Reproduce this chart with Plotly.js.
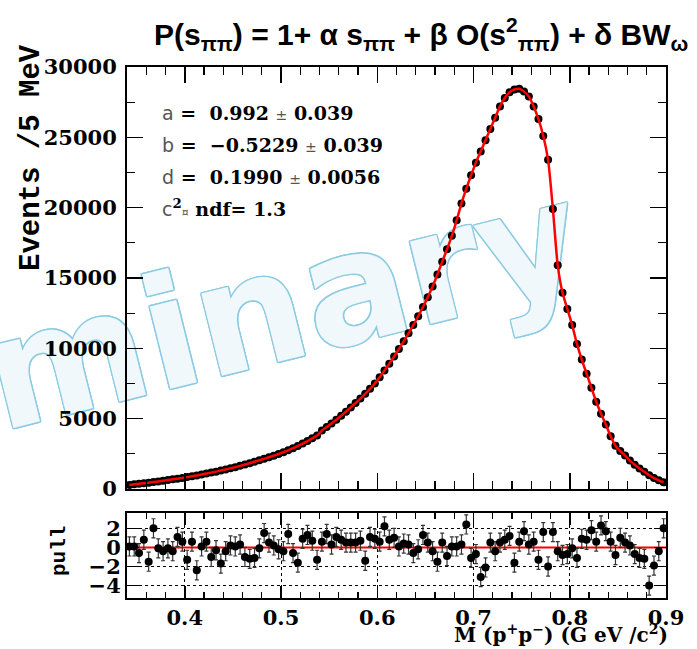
<!DOCTYPE html>
<html>
<head>
<meta charset="utf-8">
<script src="https://cdn.plot.ly/plotly-3.0.1.min.js"></script>
<style>html,body{margin:0;padding:0;background:#fff;}#chart{width:697px;height:649px;}</style>
</head>
<body>
<div id="chart"></div>
<script>
// bin centres M(pi+pi-) in GeV/c^2 (5 MeV bins)
const massBins = [0.3425,0.3475,0.3525,0.3575,0.3625,0.3675,0.3725,0.3775,0.3825,0.3875,
0.3925,0.3975,0.4025,0.4075,0.4125,0.4175,0.4225,0.4275,0.4325,0.4375,
0.4425,0.4475,0.4525,0.4575,0.4625,0.4675,0.4725,0.4775,0.4825,0.4875,
0.4925,0.4975,0.5025,0.5075,0.5125,0.5175,0.5225,0.5275,0.5325,0.5375,
0.5425,0.5475,0.5525,0.5575,0.5625,0.5675,0.5725,0.5775,0.5825,0.5875,
0.5925,0.5975,0.6025,0.6075,0.6125,0.6175,0.6225,0.6275,0.6325,0.6375,
0.6425,0.6475,0.6525,0.6575,0.6625,0.6675,0.6725,0.6775,0.6825,0.6875,
0.6925,0.6975,0.7025,0.7075,0.7125,0.7175,0.7225,0.7275,0.7325,0.7375,
0.7425,0.7475,0.7525,0.7575,0.7625,0.7675,0.7725,0.7775,0.7825,0.7875,
0.7925,0.7975,0.8025,0.8075,0.8125,0.8175,0.8225,0.8275,0.8325,0.8375,
0.8425,0.8475,0.8525,0.8575,0.8625,0.8675,0.8725,0.8775,0.8825,0.8875,
0.8925,0.8975];

// events per 5 MeV
const events = [290,330,370,410,450,495,540,585,635,685,
735,790,845,905,965,1030,1095,1165,1235,1310,
1390,1470,1555,1645,1740,1835,1935,2040,2145,2255,
2370,2490,2615,2750,2900,3060,3230,3410,3600,3800,
4150,4400,4660,4930,5210,5500,5800,6110,6430,6770,
7120,7500,7950,8420,8910,9420,9950,10500,11070,11660,
12280,12940,13640,14400,15250,16150,17050,18000,19100,20300,
21350,22300,23200,24000,24800,25600,26400,27200,27800,28200,
28400,28450,28250,27900,27200,26300,25100,23400,19900,15900,
13950,12800,11650,10300,9200,8200,7200,6200,5350,4580,
3750,3080,2700,2380,2020,1720,1450,1220,980,780,
620,480];

// fit pulls
const pulls = [0.1,0.1,-0.6,0.8,-1.5,2.0,-0.1,-0.4,-0.1,-0.4,
1.1,0.6,-1.3,0.6,-2.4,0.1,0.6,-1.0,-0.3,-1.7,
-0.4,0.2,0.1,0.3,-1.0,-1.2,-1.1,-0.1,1.5,0.5,
0.2,-0.2,-0.4,1.4,-0.6,-1.6,0.9,1.3,0.7,-1.3,
0.6,1.4,0.3,1.1,0.8,0.5,0.5,0.5,0.7,-1.4,
1.1,0.9,0.6,2.2,0.8,1.0,0.1,0.4,0.3,-0.6,
-0.2,1.3,0.5,-0.4,-1.5,0.5,-0.9,0.1,0.1,0.3,
2.4,-1.1,-0.7,-3.1,-2.1,0.5,-0.4,0.5,0.8,1.2,
-1.6,0.6,1.7,0.3,0.6,-1.3,1.6,-2.0,1.6,-0.4,
-0.8,-0.7,-0.1,-1.1,0.9,0.8,1.8,0.6,2.3,1.7,
0.6,-0.8,1.0,0.5,0.2,-0.7,-1.1,-1.2,-4.0,-1.9,
-0.4,2.0];
const pullErr = 1;

const xTicks = [0.4,0.5,0.6,0.7,0.8,0.9];
const yTicks = [0,5000,10000,15000,20000,25000,30000];
const pullTicks = [-4,-2,0,2];

const fitPars = [
  ['a','0.992','0.039'],
  ['b','−0.5229','0.039'],
  ['d','0.1990','0.0056']
];
const chi2ndf = '1.3';

const serifB = 'DejaVu Serif';
const tickFont = {family: serifB, size: 21, color: '#000', weight: 'bold'};

const traces = [
  {x: massBins, y: events, type: 'scatter', mode: 'markers', xaxis: 'x', yaxis: 'y',
   marker: {color: '#000', size: 8}, hoverinfo: 'skip'},
  {x: massBins, y: events, type: 'scatter', mode: 'lines', xaxis: 'x', yaxis: 'y',
   line: {color: '#ff0000', width: 2.5, shape: 'spline', smoothing: 0.6}, hoverinfo: 'skip'},
  {x: [0.34, 0.9], y: [0, 0], type: 'scatter', mode: 'lines',
   xaxis: 'x2', yaxis: 'y2', line: {color: '#ff0000', width: 2}, hoverinfo: 'skip'},
  {x: massBins, y: pulls, type: 'scatter', mode: 'markers', xaxis: 'x2', yaxis: 'y2',
   marker: {color: '#000', size: 8},
   error_y: {type: 'constant', value: pullErr, color: '#333', thickness: 1.2, width: 2},
   hoverinfo: 'skip'}
];

const gray = 'font-family:DejaVu Sans;font-weight:normal;color:#555';
const statsLines = fitPars.map(p =>
  '<span style="' + gray + '">' + p[0] + '</span> =  ' +
  p[1] + ' <span style="' + gray + ';font-size:14px">±</span> ' + p[2]);
statsLines.push('<span style="' + gray + '">c</span><sup>2</sup>' +
  '<span style="' + gray + ';font-size:11px">¤</span> ndf= ' + chi2ndf);

const P0 = 127, PW = 539, PB = 598, PH = 531;
const px = v => (v - P0) / PW;
const py = v => (PB - v) / PH;

const annotations = statsLines.map((t, i) => ({
  xref: 'paper', yref: 'paper', x: px(160), y: py([113,145,177,208][i]),
  xanchor: 'left', yanchor: 'middle', showarrow: false, text: t,
  font: {family: serifB, size: 19, color: '#000', weight: 'bold'}
}));
annotations.push(
  {xref: 'paper', yref: 'paper', x: px(31), y: py(158), textangle: -90, showarrow: false,
   xanchor: 'center', yanchor: 'middle', text: 'Events /5 MeV',
   font: {family: 'Liberation Mono', size: 29, color: '#000', weight: 'bold'}},
  {xref: 'paper', yref: 'paper', x: px(59), y: py(551), textangle: -90, showarrow: false,
   xanchor: 'center', yanchor: 'middle', text: 'pull',
   font: {family: 'Liberation Mono', size: 21, color: '#000', weight: 'bold'}},
  {xref: 'paper', yref: 'paper', x: px(670), y: py(634), showarrow: false,
   xanchor: 'right', yanchor: 'middle',
   text: 'M (p<sup>+</sup>p<sup>−</sup>) (G eV /c<sup>2</sup>)',
   font: {family: 'DejaVu Serif', size: 20, color: '#000', weight: 'bold'}},
  {xref: 'paper', yref: 'paper', x: px(421), y: py(34), showarrow: false,
   xanchor: 'center', yanchor: 'middle',
   text: 'P(s<sub>ππ</sub>) = 1+ α s<sub>ππ</sub> + β O(s<sup>2</sup><sub>ππ</sub>) + δ BW<sub>ω</sub>',
   font: {family: 'Liberation Sans', size: 30, color: '#000', weight: 'bold'}}
);

const wmEdge = '#8ccbe2';
const wmShadow = [[1.5,0],[-1.5,0],[0,1.5],[0,-1.5],[1.2,1.2],[-1.2,-1.2],[1.2,-1.2],[-1.2,1.2]]
  .map(d => d[0] + 'px ' + d[1] + 'px ' + wmEdge).join(', ');
const shapes = [{
  type: 'rect', xref: 'paper', yref: 'paper', x0: px(-30), x1: px(590), y0: py(395), y1: py(195),
  layer: 'below', line: {width: 0}, fillcolor: 'rgba(0,0,0,0)',
  label: {text: 'minary', textangle: -14, textposition: 'middle center',
    font: {family: 'DejaVu Sans', size: 155, color: '#f1f8fc', weight: 'bold', shadow: wmShadow}}
}];

const axBase = {showline: true, linewidth: 2, linecolor: '#000', mirror: 'ticks', zeroline: false,
  ticks: 'inside', tickcolor: '#000', tickwidth: 1.5};

const layout = {
  width: 697, height: 649,
  margin: {l: 127, r: 31, t: 67, b: 51},
  paper_bgcolor: '#fff', plot_bgcolor: 'rgba(0,0,0,0)',
  showlegend: false,
  xaxis: Object.assign({}, axBase, {domain: [0,1], anchor: 'y', range: [0.34, 0.9],
    tickvals: xTicks, showticklabels: false, ticklen: 16, showgrid: false,
    minor: {dtick: 0.02, tick0: 0, ticklen: 8, ticks: 'inside', tickcolor: '#000', tickwidth: 1.2}}),
  yaxis: Object.assign({}, axBase, {domain: [py(489), 1], anchor: 'x', range: [0, 30000],
    tickvals: yTicks, ticktext: yTicks.map(v => String(v)), ticklen: 16, showgrid: false,
    tickfont: tickFont, ticklabelstandoff: 4,
    minor: {dtick: 2500, tick0: 0, ticklen: 8, ticks: 'inside', tickcolor: '#000', tickwidth: 1.2}}),
  xaxis2: Object.assign({}, axBase, {domain: [0,1], anchor: 'y2', range: [0.34, 0.9],
    tickvals: xTicks, ticktext: xTicks.map(v => v.toFixed(1)), ticklen: 12, tickfont: tickFont,
    showgrid: true, gridcolor: '#000', gridwidth: 1, griddash: 'dot',
    minor: {dtick: 0.02, tick0: 0, ticklen: 6, ticks: 'inside', tickcolor: '#000', tickwidth: 1.2}}),
  yaxis2: Object.assign({}, axBase, {domain: [0, py(513)], anchor: 'x2', range: [-5.3, 3.6],
    tickvals: pullTicks, ticktext: pullTicks.map(v => v < 0 ? '−' + Math.abs(v) : String(v)),
    ticklen: 12, tickfont: tickFont,
    showgrid: true, gridcolor: '#000', gridwidth: 1, griddash: 'dot'}),
  annotations: annotations,
  shapes: shapes
};

Plotly.newPlot('chart', traces, layout, {staticPlot: true, displayModeBar: false});
</script>
</body>
</html>
